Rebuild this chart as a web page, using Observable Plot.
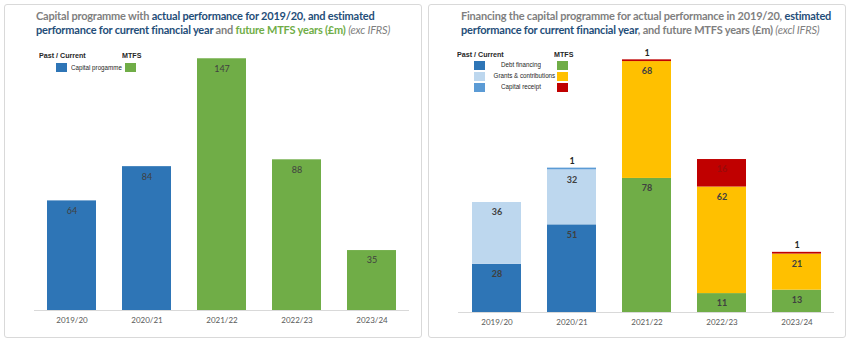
<!DOCTYPE html>
<html><head><meta charset="utf-8">
<script src="https://cdn.jsdelivr.net/npm/d3@7"></script>
<script src="https://cdn.jsdelivr.net/npm/@observablehq/plot@0.6"></script>
<style>
body{margin:0;background:#fff;width:850px;height:343px;overflow:hidden;position:relative;font-family:Lato,sans-serif}
.panel{position:absolute;top:4px;width:418px;height:334px;border:1px solid #d9d9d9;border-radius:3px;box-sizing:border-box}
.plotwrap{position:absolute;top:0;width:425px;height:343px}
.title{position:absolute;top:9px;font-weight:bold;font-size:11px;letter-spacing:-0.2px;line-height:13.5px;white-space:nowrap;color:#7f7f7f}
.b{color:#1f4e79}.g{color:#70ad47}.i{font-style:italic;font-weight:normal}
.leg{position:absolute;font-family:"Liberation Sans",Arial,sans-serif;font-size:7.5px;line-height:8px;color:#262626;white-space:nowrap;transform:scaleX(0.83);transform-origin:left center}
.ctr{transform-origin:center center}
.hd{font-weight:bold;color:#262626;transform:scaleX(0.95)}
.sw{position:absolute;width:11px;height:9px}
</style></head><body>
<div class="panel" style="left:4px"></div>
<div class="panel" style="left:428px"></div>
<div id="p1" class="plotwrap" style="left:0"></div>
<div id="p2" class="plotwrap" style="left:425px"></div>
<div class="title" style="left:36px">Capital programme with <span class="b">actual performance for 2019/20, and estimated</span><br><span class="b">performance for current financial year</span> and <span class="g">future MTFS years (£m)</span> <span class="i">(exc IFRS)</span></div>
<div class="title" style="left:461px">Financing the capital programme for actual performance in 2019/20, <span class="b">estimated</span><br><span class="b">performance for current financial year</span>, and future MTFS years (£m) <span class="i">(excl IFRS)</span></div>
<div id="legends"></div>
<script>
// ---- data ----
const years = ["2019/20", "2020/21", "2021/22", "2022/23", "2023/24"];
const pastYears = ["2019/20", "2020/21"];
const capitalProgramme = [64, 84, 147, 88, 35];
const sources = ["Debt financing", "Grants & contributions", "Capital receipt"];
const debtFinancing = [28, 51, 78, 11, 13];
const grantsContributions = [36, 32, 68, 62, 21];
const capitalReceipt = [0, 1, 1, 16, 1];
const leftLegendLabel = "Capital progamme";
const legendHeads = ["Past / Current", "MTFS"];

// ---- styles ----
const capPast = "#2e75b6", capMtfs = "#70ad47";
const pastColors = ["#2e75b6", "#bdd7ee", "#5b9bd5"];
const mtfsColors = ["#70ad47", "#ffc000", "#c00000"];

const leftData = years.map((y, i) => ({year: y, value: capitalProgramme[i], fill: pastYears.includes(y) ? capPast : capMtfs}));
const series = [debtFinancing, grantsContributions, capitalReceipt];
const rightData = [];
years.forEach((y, i) => {
  const past = pastYears.includes(y);
  series.forEach((arr, j) => {
    if (arr[i] > 0) rightData.push({year: y, source: sources[j], value: arr[i], fill: (past ? pastColors : mtfsColors)[j]});
  });
});

const common = {
  width: 425, height: 343,
  y: {domain: [0, 160], axis: null},
  color: {type: "identity"},
  style: {fontFamily: "Lato, sans-serif", fontSize: "8px", color: "#595959", background: "transparent", overflow: "visible"}
};

const p1 = Plot.plot({
  ...common,
  marginLeft: 34, marginRight: 16, marginTop: 36, marginBottom: 33,
  x: {domain: years, paddingInner: 0.35, paddingOuter: 0.175, label: null, tickSize: 0, tickPadding: 7},
  marks: [
    Plot.ruleY([0], {stroke: "#d9d9d9"}),
    Plot.barY(leftData, {x: "year", y: "value", fill: "fill"}),
    Plot.text(leftData, {x: "year", y: "value", text: d => String(d.value), dy: 10, fill: "#404040", fontSize: 9})
  ]
});
document.getElementById("p1").appendChild(p1);

const labelColor = d => d.fill === mtfsColors[2] ? "#9a0a0a" : "#404040";
const p2 = Plot.plot({
  ...common,
  marginLeft: 33, marginRight: 16, marginTop: 37, marginBottom: 31,
  x: {domain: years, paddingInner: 0.35, paddingOuter: 0.175, label: null, tickSize: 0, tickPadding: 7},
  marks: [
    Plot.ruleY([0], {stroke: "#d9d9d9"}),
    Plot.barY(rightData, Plot.stackY({x: "year", y: "value", fill: "fill"})),
    Plot.text(rightData, Plot.stackY2({x: "year", y: "value", text: d => d.value > 1 ? String(d.value) : "", dy: 10, fill: labelColor, fontSize: 9, fontWeight: "bold"})),
    Plot.text(rightData, Plot.stackY2({x: "year", y: "value", text: d => d.value <= 1 ? String(d.value) : "", dy: -7, fill: "#262626", fontSize: 9, fontWeight: "bold"}))
  ]
});
document.getElementById("p2").appendChild(p2);

// ---- legends (HTML overlay) ----
const L = document.getElementById("legends");
function add(html, cls, css) { const e = document.createElement("div"); e.className = cls; e.style.cssText = css; e.innerHTML = html; L.appendChild(e); return e; }
// left panel
add(legendHeads[0], "leg hd", "left:39px;top:52px");
add(legendHeads[1], "leg hd", "left:122px;top:52px");
add("", "sw", `left:56px;top:63px;background:${capPast}`);
add(leftLegendLabel, "leg", "left:71px;top:63.5px");
add("", "sw", `left:125px;top:63px;background:${capMtfs}`);
// right panel
add(legendHeads[0], "leg hd", "left:457px;top:51px");
add(legendHeads[1], "leg hd", "left:554px;top:51px");
sources.forEach((s, j) => {
  const top = 60.5 + j * 11;
  add("", "sw", `left:474px;top:${top}px;background:${pastColors[j]}`);
  add(s, "leg ctr", `left:488px;width:66px;text-align:center;top:${top + 0.5}px`);
  add("", "sw", `left:557px;top:${top}px;background:${mtfsColors[j]}`);
});
</script>
</body></html>
